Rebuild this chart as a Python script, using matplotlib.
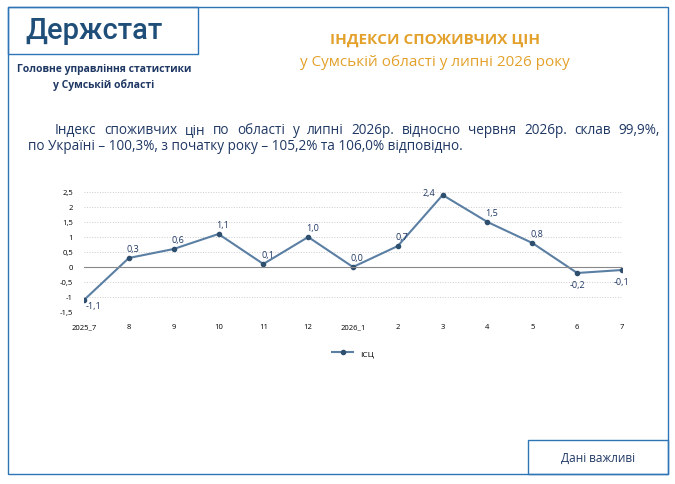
import matplotlib
matplotlib.use("Agg")
import matplotlib.pyplot as plt
from matplotlib.patches import Rectangle

plt.rcParams['font.family'] = ['Open Sans', 'DejaVu Sans']

labels = ["2025_7", "8", "9", "10", "11", "12", "2026_1", "2", "3", "4", "5", "6", "7"]
values = [-1.1, 0.3, 0.6, 1.1, 0.1, 1.0, 0.0, 0.7, 2.4, 1.5, 0.8, -0.2, -0.1]
yticks = [-1.5, -1, -0.5, 0, 0.5, 1, 1.5, 2, 2.5]

W, H = 675, 485
fig = plt.figure(figsize=(W/100, H/100), dpi=100)
blue = "#2E75B6"
def rect(x0, y0, x1, y1):
    fig.add_artist(Rectangle((x0/W, 1-y1/H), (x1-x0)/W, (y1-y0)/H, transform=fig.transFigure,
                             fill=False, ec=blue, lw=1))
rect(8, 8, 668, 475)
rect(8, 8, 198, 55)
rect(528, 441, 668, 475)

fig.text(94/W, 1-31/H, "Держстат", fontsize=21, color="#1F4E79", ha="center", va="center",
         family=["Roboto", "DejaVu Sans"], fontweight="medium")
fig.text(104/W, 1-69/H, "Головне управління статистики", fontsize=7.5, fontweight="bold", color="#1F3864", ha="center", va="center")
fig.text(104/W, 1-85/H, "у Сумській області", fontsize=7.5, fontweight="bold", color="#1F3864", ha="center", va="center")
fig.text(435/W, 1-40/H, "ІНДЕКСИ СПОЖИВЧИХ ЦІН", fontsize=11, fontweight="bold", color="#E3A12B", ha="center", va="center")
fig.text(435/W, 1-62/H, "у Сумській області у липні 2026 року", fontsize=11, color="#E3A12B", ha="center", va="center")

# justified first line
line1 = "Індекс споживчих цін по області у липні 2026р. відносно червня 2026р. склав 99,9%,".split()
fs = 9.85
r = fig.canvas.get_renderer()
words = [fig.text(0, 1-131/H, w, fontsize=fs, color="#1F3864", ha="left", va="center") for w in line1]
widths = [t.get_window_extent(r).width for t in words]
x0, x1 = 55, 660
gap = (x1 - x0 - sum(widths)) / (len(words) - 1)
xp = x0
for t, wd in zip(words, widths):
    t.set_x(xp / W)
    xp += wd + gap
fig.text(28/W, 1-147/H, "по Україні – 100,3%, з початку року – 105,2% та 106,0% відповідно.",
         fontsize=fs, color="#1F3864", ha="left", va="center")
fig.text(598/W, 1-458/H, "Дані важливі", fontsize=8.5, color="#1F3864", ha="center", va="center")

ax = fig.add_axes([84/W, 1-313/H, 538/W, 120/H])
x = list(range(len(values)))
color = "#5A7FA3"
ax.plot(x, values, color=color, lw=1.5, marker="o", ms=3, mfc="#2F4F6F", mec="#2F4F6F", label="ІСЦ")
ax.set_xlim(0, len(values)-1)
ax.set_ylim(-1.5, 2.5)
ax.set_yticks(yticks)
ax.set_yticklabels([f"{t:g}".replace(".", ",") for t in yticks], fontsize=5.5)
ax.set_xticks(x)
ax.set_xticklabels(labels, fontsize=5.5)
for s in ax.spines.values():
    s.set_visible(False)
ax.tick_params(length=0, pad=8)
ax.grid(axis="y", ls=":", color="#CCCCCC", lw=0.7)
ax.axhline(0, color="#888888", lw=0.8)
for i, v in enumerate(values):
    txt = f"{v:.1f}".replace(".", ",")
    if v < 0 and i > 0:
        ax.annotate(txt, (i, v), xytext=(0, -8), textcoords="offset points", ha="center", va="center", fontsize=6.5, color="#1F3864")
    elif i == 0:
        ax.annotate(txt, (i, v), xytext=(7, -4), textcoords="offset points", ha="center", va="center", fontsize=6.5, color="#1F3864")
    elif i == 8:
        ax.annotate(txt, (i, v), xytext=(-10, 2), textcoords="offset points", ha="center", va="center", fontsize=6.5, color="#1F3864")
    else:
        ax.annotate(txt, (i, v), xytext=(3, 7), textcoords="offset points", ha="center", va="center", fontsize=6.5, color="#1F3864")
ax.legend(loc="upper center", bbox_to_anchor=(0.5, -0.25), frameon=False, fontsize=6, handlelength=2.5)
fig.savefig("out.png", dpi=100)
